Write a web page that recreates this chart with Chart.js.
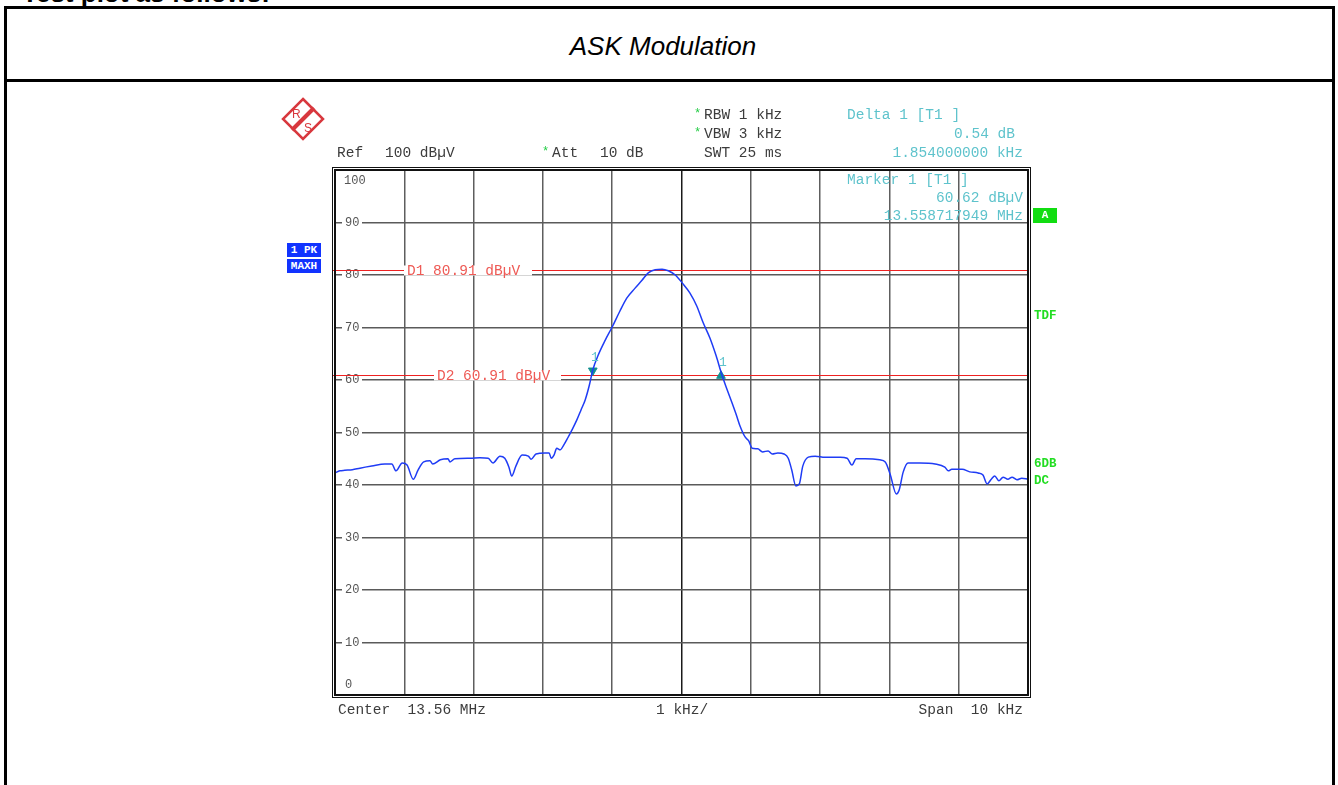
<!DOCTYPE html>
<html>
<head>
<meta charset="utf-8">
<script src="https://cdn.jsdelivr.net/npm/chart.js@4.4.0/dist/chart.umd.min.js"></script>
<style>
  body { margin: 0; width: 1338px; height: 785px; overflow: hidden; background: #fff; position: relative; }
  .frame { position: absolute; left: 4px; top: 6px; width: 1331px; height: 900px; border: 3px solid #000; box-sizing: border-box; }
  .sep { position: absolute; left: 4px; top: 79px; width: 1331px; height: 3px; background: #000; }
  .t { position: absolute; white-space: pre; font-family: "Liberation Mono", monospace; font-size: 14.5px; line-height: 16px; color: #3c3c3c; z-index: 2; }
  .cy { color: #5ec3cc; }
  .star { color: #22cc44; font-size: 12px; }
  .grn { color: #22dd22; font-weight: bold; font-size: 12.5px; }
  .box { position: absolute; color: #fff; font-family: "Liberation Mono", monospace; font-weight: bold; font-size: 11px; text-align: center; line-height: 14px; z-index: 2; }
  #title { position: absolute; left: 0; width: 1326px; top: 31px; text-align: center; font-family: "Liberation Sans", Arial, sans-serif; font-style: italic; font-size: 26px; line-height: 30px; }
  #head { position: absolute; left: 22px; top: -20px; font-family: "Liberation Sans", Arial, sans-serif; font-weight: bold; font-size: 26px; line-height: 26px; }
  canvas { position: absolute; left: 0; top: 0; z-index: 1; }
  svg { position: absolute; left: 279px; top: 96px; z-index: 2; }
</style>
</head>
<body>
<div id="head">Test plot as follows:</div>
<div class="frame"></div>
<div class="sep"></div>
<div id="title">ASK Modulation</div>

<svg width="48" height="48" viewBox="0 0 48 48">
  <polygon points="24,3 44,23 24,43 4,23" fill="none" stroke="#d8383e" stroke-width="2.5"/>
  <line x1="35" y1="12" x2="13" y2="34" stroke="#d8383e" stroke-width="4"/>
  <text x="13" y="22" font-family="Liberation Sans, Arial" font-size="12" fill="#d8383e">R</text>
  <text x="25" y="36" font-family="Liberation Sans, Arial" font-size="12" fill="#d8383e">S</text>
</svg>

<div class="t star" style="left:694px;top:106px">*</div>
<div class="t" style="left:704px;top:107px">RBW 1 kHz</div>
<div class="t star" style="left:694px;top:125px">*</div>
<div class="t" style="left:704px;top:126px">VBW 3 kHz</div>
<div class="t" style="left:704px;top:145px">SWT 25 ms</div>
<div class="t" style="left:337px;top:145px">Ref</div>
<div class="t" style="left:385px;top:145px">100 dBµV</div>
<div class="t star" style="left:542px;top:144px">*</div>
<div class="t" style="left:552px;top:145px">Att</div>
<div class="t" style="left:600px;top:145px">10 dB</div>

<div class="t cy" style="left:847px;top:107px">Delta 1 [T1 ]</div>
<div class="t cy" style="right:323px;top:126px">0.54 dB</div>
<div class="t cy" style="right:315px;top:145px">1.854000000 kHz</div>
<div class="t cy" style="left:847px;top:172px">Marker 1 [T1 ]</div>
<div class="t cy" style="right:315px;top:190px">60.62 dBµV</div>
<div class="t cy" style="right:315px;top:208px">13.558717949 MHz</div>

<div class="box" style="left:1033px;top:208px;width:24px;height:15px;background:#11dd11;line-height:15px">A</div>
<div class="box" style="left:287px;top:243px;width:34px;height:14px;background:#1133ff">1 PK</div>
<div class="box" style="left:287px;top:259px;width:34px;height:14px;background:#1133ff">MAXH</div>

<div class="t grn" style="left:1034px;top:308px">TDF</div>
<div class="t grn" style="left:1034px;top:456px">6DB</div>
<div class="t grn" style="left:1034px;top:473px">DC</div>

<div class="t" style="left:338px;top:702px">Center  13.56 MHz</div>
<div class="t" style="left:656px;top:702px">1 kHz/</div>
<div class="t" style="right:315px;top:702px">Span  10 kHz</div>

<canvas id="spectrum" width="1338" height="785"></canvas>

<script>
// frequency offset from 13.56 MHz centre, kHz
const freqOffsetsKHz = [
  -5.00, -4.93, -4.86, -4.75, -4.64, -4.47, -4.28, -4.18, -4.12, -4.03,
  -3.96, -3.87, -3.80, -3.72, -3.63, -3.59, -3.48, -3.37, -3.34, -3.27,
  -3.05, -2.91, -2.79, -2.72, -2.62, -2.55, -2.49, -2.45, -2.39, -2.30,
  -2.21, -2.17, -2.10, -1.97, -1.91, -1.88, -1.84, -1.80, -1.75, -1.70,
  -1.64, -1.58, -1.51, -1.45, -1.39, -1.33, -1.28, -1.20, -1.10, -1.00,
  -0.89, -0.79, -0.67, -0.57, -0.48, -0.38, -0.28, -0.19, -0.09, 0.01,
  0.12, 0.22, 0.31, 0.41, 0.50, 0.58, 0.66, 0.73, 0.80, 0.84,
  0.92, 0.97, 1.02, 1.10, 1.17, 1.25, 1.31, 1.39, 1.48, 1.54,
  1.59, 1.65, 1.70, 1.75, 1.83, 1.93, 2.07, 2.29, 2.39, 2.46,
  2.52, 2.65, 2.86, 2.94, 3.01, 3.10, 3.14, 3.20, 3.27, 3.44,
  3.66, 3.80, 3.85, 3.90, 4.05, 4.16, 4.28, 4.35, 4.41, 4.47,
  4.52, 4.58, 4.64, 4.71, 4.77, 4.84, 4.91, 5.00
];
// trace 1 (max hold), dBµV
const levelsDbuV = [
  42.3, 42.7, 42.8, 42.9, 43.2, 43.6, 44.0, 44.0, 42.7, 44.2,
  43.8, 41.1, 42.9, 44.4, 44.6, 44.0, 44.8, 45.0, 44.4, 45.0,
  45.1, 45.2, 45.1, 44.2, 45.5, 45.1, 43.4, 41.7, 43.6, 45.7,
  45.5, 44.9, 45.9, 46.1, 46.1, 45.1, 45.7, 47.0, 46.7, 47.6,
  49.0, 50.5, 52.4, 54.3, 56.2, 59.0, 61.9, 64.8, 67.6, 70.1,
  73.1, 75.6, 77.5, 79.0, 80.4, 81.0, 81.1, 80.8, 80.0, 78.5,
  76.6, 74.1, 71.0, 68.0, 64.6, 61.1, 58.1, 55.6, 53.0, 51.4,
  49.1, 48.4, 47.0, 46.9, 46.3, 46.5, 45.9, 46.1, 45.9, 45.1,
  42.9, 39.8, 40.2, 43.6, 45.3, 45.5, 45.3, 45.3, 45.1, 43.8,
  45.0, 45.0, 44.8, 44.4, 42.1, 38.3, 39.0, 42.5, 44.2, 44.2,
  44.0, 43.4, 42.7, 43.0, 43.0, 42.5, 42.3, 41.9, 40.2, 41.1,
  41.7, 40.8, 41.5, 41.1, 41.5, 41.0, 41.3, 41.1
];
// marker 1 and delta marker 1
const markerFreqs = [-1.28, 0.57];
const markerLevels = [61.8, 60.8];
const markerLabels = ['1', '1'];
// display lines D1, D2
const displayLineLevels = [80.91, 60.91];
const displayLineLabels = ['D1 80.91 dBµV', 'D2 60.91 dBµV'];
const yTickLabels = ['0', '10', '20', '30', '40', '50', '60', '70', '80', '90', '100'];

const MONO = '"Liberation Mono", monospace';

const screenPlugin = {
    id: 'screen',
    beforeDatasetsDraw(chart) {
        const { ctx, chartArea: a, scales: { y } } = chart;
        ctx.save();
        ctx.font = '12px ' + MONO;
        ctx.textBaseline = 'middle';
        yTickLabels.forEach((lbl, i) => {
            const v = i * 10;
            const py = y.getPixelForValue(v);
            if (v === 100) {
                ctx.fillStyle = '#555';
                ctx.fillText(lbl, a.left + 9, py + 11);
            } else if (v === 0) {
                ctx.fillStyle = '#555';
                ctx.fillText(lbl, a.left + 10, py - 10);
            } else {
                ctx.fillStyle = '#fff';
                ctx.fillRect(a.left + 7, py - 6, 20, 12);
                ctx.fillStyle = '#555';
                ctx.fillText(lbl, a.left + 10, py);
            }
        });

        // display lines
        const labelOffsets = [[69, 197], [99, 226]];
        displayLineLevels.forEach((lvl, i) => {
            const py = Math.round(y.getPixelForValue(lvl)) + 0.5;
            ctx.strokeStyle = '#ee2222';
            ctx.lineWidth = 1.2;
            ctx.beginPath();
            ctx.moveTo(a.left - 2, py);
            ctx.lineTo(a.right, py);
            ctx.stroke();
            const [x0, x1] = labelOffsets[i];
            ctx.fillStyle = '#fff';
            ctx.fillRect(a.left + x0, py - 5, x1 - x0, 10);
            ctx.font = '14.5px ' + MONO;
            ctx.fillStyle = '#ee5a55';
            ctx.fillText(displayLineLabels[i], a.left + x0 + 3, py + 1);
        });
        ctx.restore();
    },
    afterDatasetsDraw(chart) {
        const { ctx, chartArea: a, scales: { x, y } } = chart;
        ctx.save();
        ctx.font = '13px ' + MONO;
        ctx.fillStyle = '#5ec3cc';
        ctx.textAlign = 'center';
        markerFreqs.forEach((f, i) => {
            ctx.fillText(markerLabels[i], x.getPixelForValue(f) + 2, y.getPixelForValue(markerLevels[i]) - 10);
        });
        // instrument screen border
        ctx.strokeStyle = '#111';
        ctx.lineWidth = 2;
        ctx.strokeRect(a.left, a.top, a.right - a.left, a.bottom - a.top);
        ctx.lineWidth = 1;
        ctx.strokeRect(a.left - 2.5, a.top - 2.5, a.right - a.left + 5, a.bottom - a.top + 5);
        ctx.restore();
    }
};

new Chart(document.getElementById('spectrum'), {
    type: 'line',
    data: {
        datasets: [{
            data: freqOffsetsKHz.map((f, i) => ({ x: f, y: levelsDbuV[i] })),
            borderColor: '#1f3cf5',
            borderWidth: 1.5,
            pointRadius: 0,
            cubicInterpolationMode: 'monotone'
        }, {
            type: 'scatter',
            data: markerFreqs.map((f, i) => ({ x: f, y: markerLevels[i] })),
            pointStyle: 'triangle',
            rotation: [180, 0],
            pointRadius: 5,
            backgroundColor: '#138f8f',
            borderColor: '#138f8f'
        }]
    },
    options: {
        responsive: false,
        animation: false,
        devicePixelRatio: 1,
        layout: { padding: { left: 335, top: 170, right: 310, bottom: 90 } },
        plugins: { legend: { display: false }, tooltip: { enabled: false } },
        scales: {
            x: {
                type: 'linear',
                min: -5,
                max: 5,
                ticks: { stepSize: 1, display: false },
                border: { display: false },
                grid: {
                    drawTicks: false,
                    lineWidth: 1.5,
                    color: (c) => (c.tick && c.tick.value === 0 ? '#1a1a1a' : '#5e5e5e')
                }
            },
            y: {
                min: 0,
                max: 100,
                ticks: { stepSize: 10, display: false },
                border: { display: false },
                grid: { drawTicks: false, lineWidth: 1.5, color: '#5a5a5a' }
            }
        }
    },
    plugins: [screenPlugin]
});
</script>
</body>
</html>
